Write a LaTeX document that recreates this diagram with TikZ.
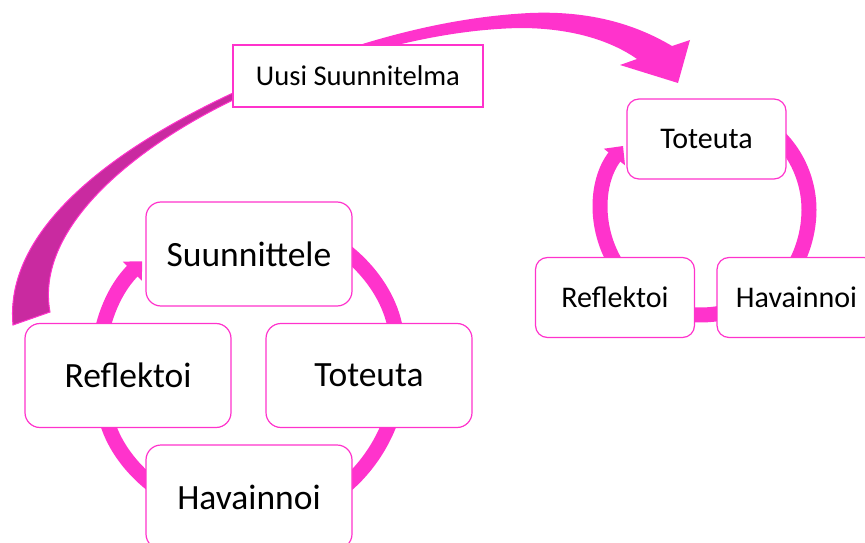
\documentclass[tikz,border=0pt]{standalone}
\usepackage{fontspec}
\setmainfont{Carlito}
\usepackage{xcolor}
\usetikzlibrary{arrows.meta}
\definecolor{pinkline}{HTML}{FF33CC}
\definecolor{darkpink}{HTML}{C92AA0}

\begin{document}
\begin{tikzpicture}[x=1pt,y=1pt,
    box/.style={draw=pinkline,line width=1.2pt,fill=white,rounded corners=15pt,
      minimum width=206pt,minimum height=104pt,font=\fontsize{35.5}{40}\selectfont},
    smallbox/.style={box,rounded corners=12pt,minimum width=159pt,minimum height=80pt,
      font=\fontsize{30}{36}\selectfont},
    ringarc/.style={draw=pinkline,line width=15pt,-{Triangle[width=26pt,length=14pt]}},
    planbox/.style={draw=pinkline,line width=2pt,fill=white,minimum width=250pt,
      minimum height=62pt,font=\fontsize{28.6}{34}\selectfont}]
  \useasboundingbox (0,0) rectangle (865,-543);
  \clip (0,0) rectangle (865,-543);
  % big curved arrow
  \fill[pinkline] (13,-325) .. controls (5,-240) and (90,-160) .. (233,-93)
    .. controls (330,-50) and (430,-18) .. (530,-13)
    .. controls (600,-10) and (645,-30) .. (672,-46)
    -- (690,-40) -- (678,-83) -- (620,-65) -- (637,-59)
    .. controls (610,-40) and (570,-28) .. (520,-28)
    .. controls (420,-30) and (320,-65) .. (233,-100)
    .. controls (130,-150) and (35,-230) .. (50,-312) -- cycle;
  \filldraw[fill=darkpink,draw=pinkline,line width=1pt] (13,-325)
    .. controls (5,-240) and (90,-160) .. (233,-93) -- (255,-84) -- (255,-91) -- (233,-100)
    .. controls (130,-150) and (35,-230) .. (50,-312) -- cycle;
  \node (plan) [planbox] at (358,-76) {Uusi Suunnitelma};
  % rings
  \coordinate (lc) at (249,-368);
  \coordinate (rc) at (705,-210);
  \foreach \s/\e in {190/135,80/10,-10/-80,260/195} {\draw[ringarc] (lc) ++(\s:151) arc[start angle=\s,end angle=\e,radius=151];}
  \foreach \s/\e in {215/142,60/-45,-60/-120} {\draw[ringarc] (rc) ++(\s:104) arc[start angle=\s,end angle=\e,radius=104];}
  % left cycle
  \node (suun) [box] at (249,-254) {Suunnittele};
  \node (tot) [box] at (369,-375.5) {Toteuta};
  \node (hav) [box] at (249,-497) {Havainnoi};
  \node (refl) [box] at (128,-375.5) {Reflektoi};
  % right cycle
  \node (tot2) [smallbox] at (706.5,-139) {Toteuta};
  \node (hav2) [smallbox] at (796.5,-297.5) {Havainnoi};
  \node (refl2) [smallbox] at (615,-297.5) {Reflektoi};
\end{tikzpicture}
\end{document}
